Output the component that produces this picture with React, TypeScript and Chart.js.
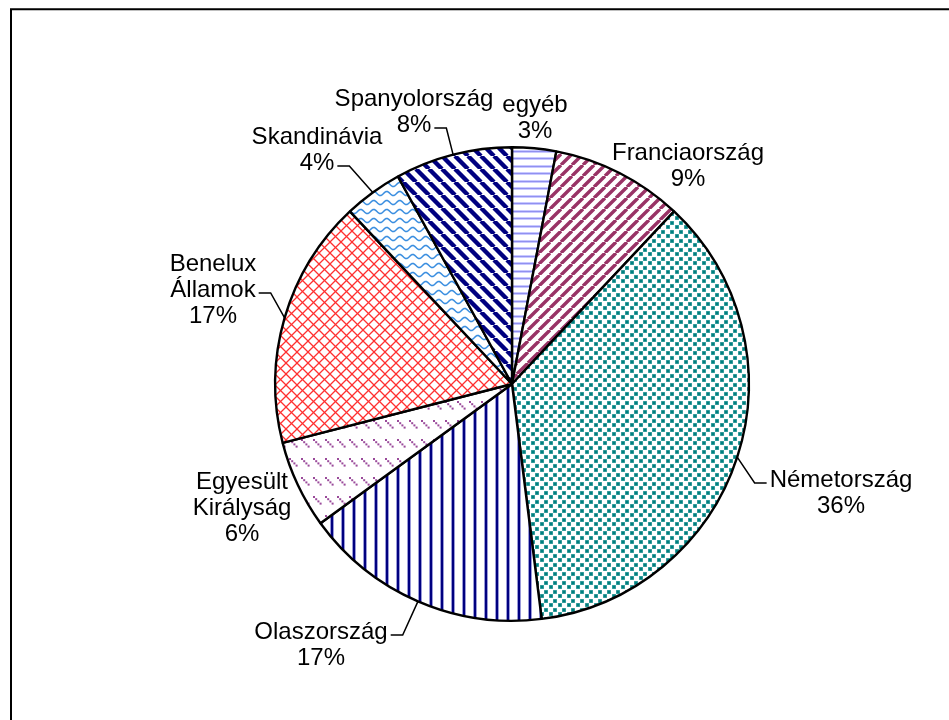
import React, { useEffect, useRef } from 'react';
import { Chart, registerables } from 'chart.js';

Chart.register(...registerables);

// ---- data ----
const categories = ['egyéb', 'Franciaország', 'Németország', 'Olaszország', 'Egyesült Királyság', 'Benelux Államok', 'Skandinávia', 'Spanyolország'];
const shares = [3, 9, 36, 17, 6, 17, 4, 8];
const labelLines = [['egyéb'], ['Franciaország'], ['Németország'], ['Olaszország'], ['Egyesült', 'Királyság'], ['Benelux', 'Államok'], ['Skandinávia'], ['Spanyolország']];

// ---- label layout (relative to pie centre): text centre x, first baseline y ----
const labelOffsets = [[23, -272], [176, -224], [329, 103], [-191, 255], [-270, 105], [-299, -113], [-195, -240], [-98, -278]];
const leaderSpecs: (null | { line: number; side: 'left' | 'right' })[] = [
  null, null, { line: 0, side: 'left' }, { line: 0, side: 'right' }, null,
  { line: 1, side: 'right' }, { line: 1, side: 'right' }, { line: 1, side: 'right' },
];
const LINE_H = 26;
const FONT = '24px "Liberation Sans", Arial, sans-serif';

function makeTile(main: CanvasRenderingContext2D, w: number, h: number, draw: (g: CanvasRenderingContext2D, w: number, h: number) => void) {
  const c = document.createElement('canvas');
  c.width = w; c.height = h;
  const g = c.getContext('2d')!;
  g.fillStyle = '#ffffff';
  g.fillRect(0, 0, w, h);
  draw(g, w, h);
  return main.createPattern(c, 'repeat')!;
}

function diag(g: CanvasRenderingContext2D, s: number, up: boolean) {
  g.beginPath();
  for (let k = -1; k <= 1; k++) {
    const x0 = k * s;
    if (up) { g.moveTo(x0, s); g.lineTo(x0 + s, 0); }
    else { g.moveTo(x0, 0); g.lineTo(x0 + s, s); }
  }
  g.stroke();
}

function makePatterns(main: CanvasRenderingContext2D) {
  // egyéb: horizontal light violet lines
  const p0 = makeTile(main, 8, 15, (g) => {
    g.fillStyle = '#c8c8ff'; g.fillRect(0, 0, 8, 3); g.fillRect(0, 7, 8, 3);
    g.fillStyle = '#9090f0'; g.fillRect(0, 1, 8, 1); g.fillRect(0, 8, 8, 1);
  });
  // Franciaország: "/" plum stripes
  const p1 = makeTile(main, 11, 11, (g, s) => { g.strokeStyle = '#993366'; g.lineWidth = 3.4; diag(g, s, true); });
  // Németország: teal dots
  const p2 = makeTile(main, 9, 9, (g) => {
    g.fillStyle = '#5fb0b0';
    g.fillRect(0, 0, 4, 4); g.fillRect(4, 5, 4, 4);
    g.fillStyle = '#008080';
    g.fillRect(0.5, 0.5, 3, 3); g.fillRect(4.5, 5.5, 3, 3);
  });
  // Olaszország: vertical navy stripes
  const p3 = makeTile(main, 11, 4, (g) => {
    g.fillStyle = '#9a9ad8'; g.fillRect(0, 0, 1, 4); g.fillRect(3, 0, 1, 4);
    g.fillStyle = '#000080'; g.fillRect(1, 0, 2, 4);
  });
  // Egyesült Királyság: dashed "\" diagonals
  const p4 = makeTile(main, 12, 19, (g) => {
    g.fillStyle = '#9a4a9a';
    for (let k = 0; k < 4; k++) g.fillRect(1 + k * 2.2, 2 + k * 2.2, 2, 2);
  });
  // Benelux: red diamond lattice
  const p5 = makeTile(main, 11, 11, (g, s) => {
    g.strokeStyle = '#ff3030'; g.lineWidth = 1.3; diag(g, s, true); diag(g, s, false);
  });
  // Skandinávia: blue waves
  const p6 = makeTile(main, 13, 9, (g, w, h) => {
    g.strokeStyle = '#3a8ee0'; g.lineWidth = 1.6;
    for (const off of [-h, 0, h]) {
      g.beginPath();
      for (let x = -1; x <= w + 1; x += 0.5) {
        const y = h / 2 + off + 2 * Math.sin((2 * Math.PI * x) / w);
        if (x === -1) g.moveTo(x, y); else g.lineTo(x, y);
      }
      g.stroke();
    }
  });
  // Spanyolország: "\" navy stripes
  const p7 = makeTile(main, 13, 13, (g, s) => { g.strokeStyle = '#000080'; g.lineWidth = 4.4; diag(g, s, false); });
  return [p0, p1, p2, p3, p4, p5, p6, p7];
}

const framePlugin = {
  id: 'frame',
  beforeDraw(chart: any) {
    const ctx = chart.ctx as CanvasRenderingContext2D;
    ctx.save();
    ctx.fillStyle = '#ffffff';
    ctx.fillRect(0, 0, chart.width, chart.height);
    ctx.strokeStyle = '#000000';
    ctx.lineWidth = 2;
    ctx.beginPath();
    ctx.moveTo(11, chart.height + 10);
    ctx.lineTo(11, 9.25);
    ctx.lineTo(chart.width + 10, 9.25);
    ctx.stroke();
    ctx.restore();
  },
};

const labelPlugin = {
  id: 'pieLabels',
  afterDatasetsDraw(chart: any) {
    const ctx = chart.ctx as CanvasRenderingContext2D;
    const meta = chart.getDatasetMeta(0);
    const total = shares.reduce((a, b) => a + b, 0);
    ctx.save();
    ctx.font = FONT;
    ctx.fillStyle = '#000000';
    ctx.textAlign = 'center';
    ctx.textBaseline = 'alphabetic';
    meta.data.forEach((arc: any, i: number) => {
      const { x, y, startAngle, endAngle, outerRadius } = arc.getProps(['x', 'y', 'startAngle', 'endAngle', 'outerRadius'], true);
      const lines = [...labelLines[i], Math.round((shares[i] / total) * 100) + '%'];
      const cx = x + labelOffsets[i][0];
      const by = y + labelOffsets[i][1];
      lines.forEach((t, j) => ctx.fillText(t, cx, by + j * LINE_H));
      const spec = leaderSpecs[i];
      if (spec) {
        const mid = (startAngle + endAngle) / 2;
        const px = x + Math.cos(mid) * outerRadius;
        const py = y + Math.sin(mid) * outerRadius;
        const w = ctx.measureText(lines[spec.line]).width;
        const ly = by + spec.line * LINE_H - 4;
        const dir = spec.side === 'right' ? 1 : -1;
        const sx = cx + dir * (w / 2 + 3);
        const ex = sx + dir * 12;
        ctx.beginPath();
        ctx.moveTo(sx, ly);
        ctx.lineTo(ex, ly);
        ctx.lineTo(px, py);
        ctx.lineWidth = 1.5;
        ctx.strokeStyle = '#000000';
        ctx.stroke();
      }
    });
    ctx.restore();
  },
};

export default function App() {
  const ref = useRef<HTMLCanvasElement>(null);
  useEffect(() => {
    const canvas = ref.current!;
    const ctx = canvas.getContext('2d')!;
    const patterns = makePatterns(ctx);
    const chart = new Chart(canvas, {
      type: 'pie',
      data: {
        labels: categories,
        datasets: [{ data: shares, backgroundColor: patterns as any, borderColor: '#000000', borderWidth: 2.4, hoverOffset: 0 }],
      },
      options: {
        responsive: false,
        animation: false,
        devicePixelRatio: 1,
        layout: { padding: { left: 274, right: 199, top: 146, bottom: 98 } },
        plugins: { legend: { display: false }, tooltip: { enabled: false } },
        events: [],
      },
      plugins: [framePlugin, labelPlugin],
    });
    return () => chart.destroy();
  }, []);
  return (
    <div style={{ position: 'fixed', left: 0, top: 0, width: 949, height: 720, background: '#ffffff' }}>
      <canvas ref={ref} width={949} height={720} style={{ display: 'block' }} />
    </div>
  );
}
